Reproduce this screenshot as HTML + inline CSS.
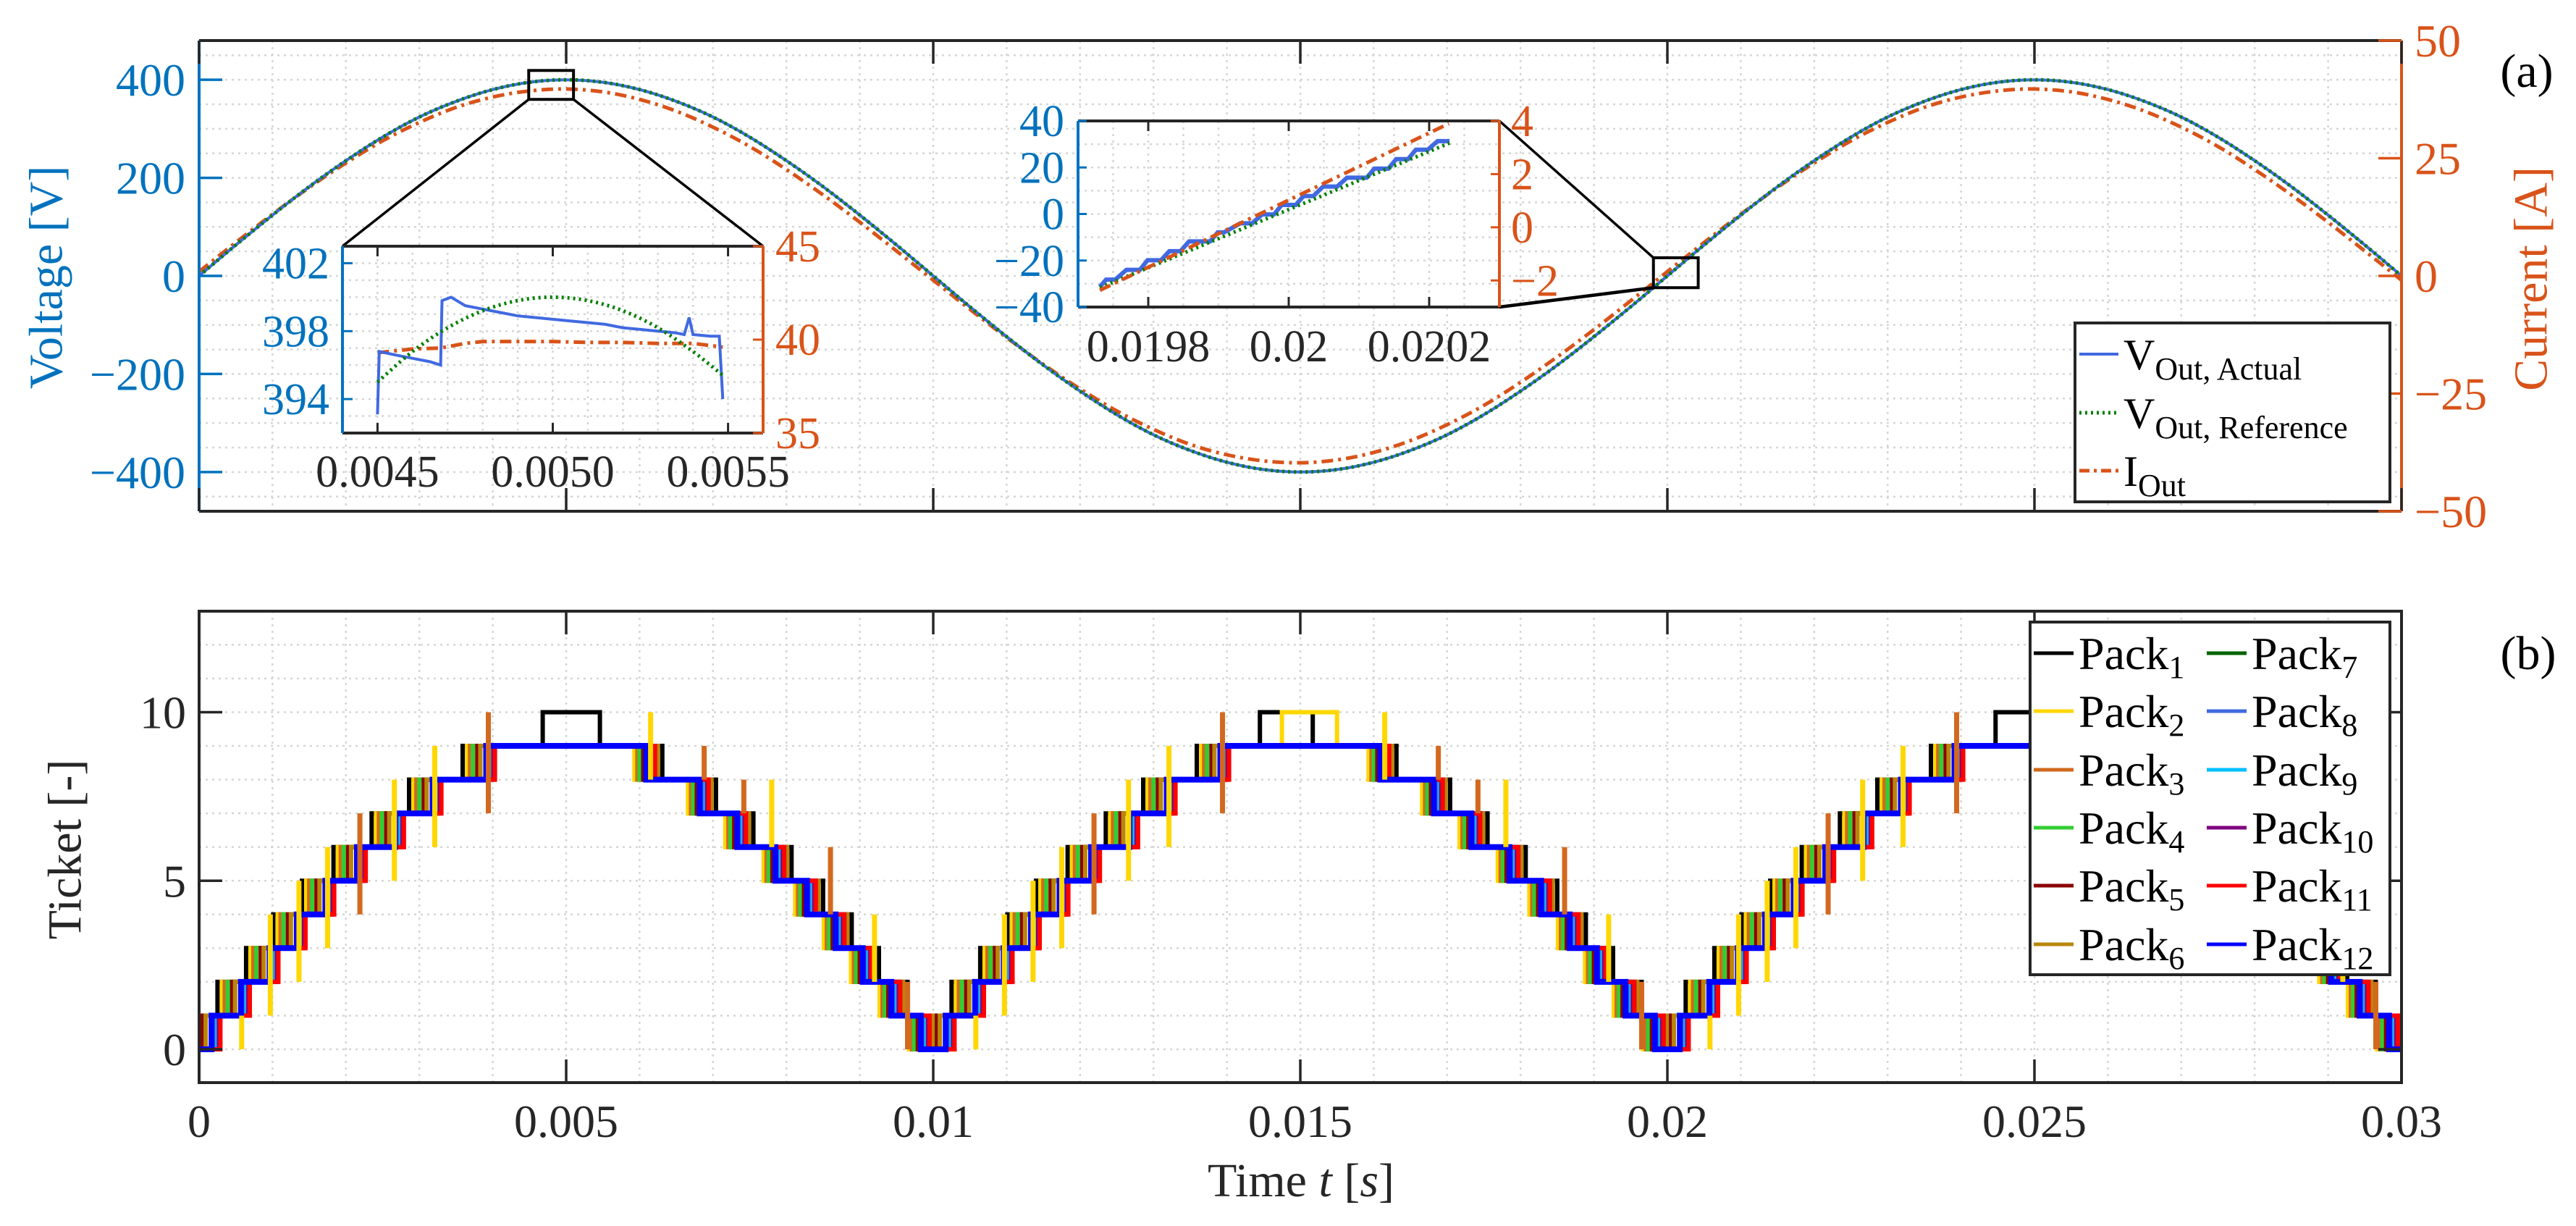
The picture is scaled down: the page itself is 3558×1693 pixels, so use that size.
<!DOCTYPE html>
<html><head><meta charset="utf-8"><title>Inverter output and pack tickets</title>
<style>
html,body{margin:0;padding:0;background:#fff;}
svg{display:block;font-family:"Liberation Serif",serif;}
</style></head>
<body>
<svg id="fig" width="3558" height="1693" viewBox="0 0 3558 1693" xmlns="http://www.w3.org/2000/svg">
<rect x="0" y="0" width="3558" height="1693" fill="#fff"/>
<defs>
<clipPath id="clipTop"><rect x="275" y="56" width="3042" height="650"/></clipPath>
<clipPath id="clipBot"><rect x="275" y="844" width="3042" height="651"/></clipPath>
<clipPath id="clipI1"><rect x="473" y="340" width="581" height="258"/></clipPath>
<clipPath id="clipI2"><rect x="1489" y="167" width="582" height="257"/></clipPath>
</defs>

<g id="gridTop"></g>
<g id="dataTop" clip-path="url(#clipTop)"></g>
<g id="zoomMarks"></g>
<g id="frameTop">
  <line x1="275" y1="56" x2="3317" y2="56" stroke="#262626" stroke-width="4"/>
  <line x1="275" y1="706" x2="3317" y2="706" stroke="#262626" stroke-width="4"/>
  <line x1="275" y1="56" x2="275" y2="706" stroke="#0072BD" stroke-width="4"/>
  <line x1="3317" y1="56" x2="3317" y2="706" stroke="#D95319" stroke-width="4"/>
</g>
<g id="ticksTop"></g>
<text x="64" y="383" transform="rotate(-90 64 383)" text-anchor="middle" dominant-baseline="central" font-size="66" fill="#0072BD">Voltage [V]</text>
<text x="3496" y="385" transform="rotate(-90 3496 385)" text-anchor="middle" dominant-baseline="central" font-size="66" fill="#D95319">Current [A]</text>
<text x="3490" y="120" text-anchor="middle" font-size="66" fill="#000">(a)</text>

<g id="inset1">
  <rect x="473" y="340" width="581" height="258" fill="#fff"/>
  <g id="gridI1"></g>
  <g id="dataI1" clip-path="url(#clipI1)"></g>
  <line x1="473" y1="340" x2="1054" y2="340" stroke="#262626" stroke-width="4"/>
  <line x1="473" y1="598" x2="1054" y2="598" stroke="#262626" stroke-width="4"/>
  <line x1="473" y1="340" x2="473" y2="598" stroke="#0072BD" stroke-width="4"/>
  <line x1="1054" y1="340" x2="1054" y2="598" stroke="#D95319" stroke-width="4"/>
  <g id="ticksI1"></g>
</g>
<g id="inset2">
  <rect x="1489" y="167" width="582" height="257" fill="#fff"/>
  <g id="gridI2"></g>
  <g id="dataI2" clip-path="url(#clipI2)"></g>
  <line x1="1489" y1="167" x2="2071" y2="167" stroke="#262626" stroke-width="4"/>
  <line x1="1489" y1="424" x2="2071" y2="424" stroke="#262626" stroke-width="4"/>
  <line x1="1489" y1="167" x2="1489" y2="424" stroke="#0072BD" stroke-width="4"/>
  <line x1="2071" y1="167" x2="2071" y2="424" stroke="#D95319" stroke-width="4"/>
  <g id="ticksI2"></g>
</g>

<g>
  <rect x="2866" y="446" width="435" height="247" fill="#fff" stroke="#262626" stroke-width="4"/>
  <line x1="2872" y1="489" x2="2926" y2="489" stroke="#4169E1" stroke-width="4"/>
  <text x="2933" y="510" font-size="60" fill="#000">V<tspan font-size="44" dy="14">Out,  Actual</tspan></text>
  <line x1="2872" y1="570" x2="2926" y2="570" stroke="#008000" stroke-width="5" stroke-dasharray="3 5"/>
  <text x="2933" y="591" font-size="60" fill="#000">V<tspan font-size="44" dy="14">Out,  Reference</tspan></text>
  <line x1="2872" y1="650" x2="2926" y2="650" stroke="#D95319" stroke-width="5" stroke-dasharray="14 6 4 6"/>
  <text x="2933" y="671" font-size="60" fill="#000">I<tspan font-size="44" dy="14">Out</tspan></text>
</g>

<g id="gridBot"></g>
<g id="dataBot" clip-path="url(#clipBot)"></g>
<g>
  <rect x="275" y="844" width="3042" height="651" fill="none" stroke="#262626" stroke-width="4"/>
</g>
<g id="ticksBot"></g>
<text x="90" y="1173" transform="rotate(-90 90 1173)" text-anchor="middle" dominant-baseline="central" font-size="66" fill="#262626">Ticket [-]</text>
<text x="1797" y="1652" text-anchor="middle" font-size="66" fill="#262626">Time <tspan font-style="italic">t</tspan> [<tspan font-style="italic">s</tspan>]</text>
<text x="3492" y="924" text-anchor="middle" font-size="66" fill="#000">(b)</text>

<g id="legendBot">
  <rect x="2804" y="859" width="497" height="487" fill="#fff" stroke="#262626" stroke-width="4"/>
</g>
</svg>
<script>
const tStep = 0.0005;
const vActual = [0,63,124,182,235,283,324,356,380,395,400,395,380,356,324,283,235,182,124,63,0,
 -63,-124,-182,-235,-283,-324,-356,-380,-395,-400,-395,-380,-356,-324,-283,-235,-182,-124,-63,0,
 63,124,182,235,283,324,356,380,395,400,395,380,356,324,283,235,182,124,63,0];
const vReference = [0,63,124,182,235,283,324,356,380,395,400,395,380,356,324,283,235,182,124,63,0,
 -63,-124,-182,-235,-283,-324,-356,-380,-395,-400,-395,-380,-356,-324,-283,-235,-182,-124,-63,0,
 63,124,182,235,283,324,356,380,395,400,395,380,356,324,283,235,182,124,63,0];
const iOut = [0.9,7.1,13.1,18.8,24.0,28.7,32.6,35.8,38.0,39.3,39.7,39.1,37.5,35.0,31.6,27.5,22.6,17.2,11.4,5.3,-0.9,
 -7.1,-13.1,-18.8,-24.0,-28.7,-32.6,-35.8,-38.0,-39.3,-39.7,-39.1,-37.5,-35.0,-31.6,-27.5,-22.6,-17.2,-11.4,-5.3,0.9,
 7.1,13.1,18.8,24.0,28.7,32.6,35.8,38.0,39.3,39.7,39.1,37.5,35.0,31.6,27.5,22.6,17.2,11.4,5.3,-0.9];
const xTicks = [0,0.005,0.01,0.015,0.02,0.025,0.03];
const xTickLabels = ["0","0.005","0.01","0.015","0.02","0.025","0.03"];
const vTicks = [-400,-200,0,200,400];
const vTickLabels = ["\u2212400","\u2212200","0","200","400"];
const iTicks = [-50,-25,0,25,50];
const iTickLabels = ["\u221250","\u221225","0","25","50"];

const i1BlueT = [0.00450,0.004505,0.00455,0.00460,0.00465,0.00468,0.004684,0.00471,0.00475,0.00480,0.00485,0.00490,0.00495,0.00500,0.00505,0.00510,0.00515,0.00520,0.00525,0.00530,0.00535,0.005375,0.005389,0.005400,0.00545,0.005475,0.005485];
const i1BlueV = [393.1,396.8,396.6,396.4,396.2,396.0,399.8,400.0,399.5,399.3,399.1,398.9,398.8,398.7,398.6,398.5,398.4,398.2,398.1,398.0,397.9,397.8,398.8,397.8,397.7,397.7,394.0];
const i1GreenT = [0.00450,0.00460,0.00470,0.00480,0.00490,0.00500,0.00510,0.00520,0.00530,0.00540,0.005485];
const i1GreenV = [395.0,396.8,398.2,399.2,399.8,400.0,399.8,399.2,398.2,396.8,395.4];
const i1RedT = [0.00450,0.00460,0.00468,0.00475,0.00480,0.00490,0.00500,0.00510,0.00520,0.00530,0.00540,0.005485];
const i1RedI = [39.3,39.5,39.55,39.8,39.9,39.9,39.9,39.85,39.85,39.8,39.8,39.6];
const i1XTicks = [0.0045,0.0050,0.0055];
const i1XTickLabels = ["0.0045","0.0050","0.0055"];
const i1VTicks = [394,398,402];
const i1ITicks = [35,40,45];

const i2BlueT = [0.019731,0.019740,0.019753,0.019769,0.019788,0.019799,0.019818,0.019830,0.019846,0.019858,0.019888,0.019899,0.019908,0.019931,0.019948,0.019962,0.019979,0.019990,0.020010,0.020021,0.020035,0.020049,0.020069,0.020083,0.020111,0.020122,0.020142,0.020153,0.020170,0.020181,0.020198,0.020212,0.020229];
const i2BlueV = [-31.3,-28.2,-28.2,-24.0,-24.0,-19.9,-19.9,-16.0,-16.0,-11.8,-11.8,-7.9,-7.9,-4.0,-4.0,-0.2,-0.2,3.9,3.9,7.7,7.7,11.8,11.8,15.6,15.6,19.5,19.5,23.6,23.6,27.6,27.6,31.3,31.3];
const i2GreenT = [0.019731,0.020229];
const i2GreenV = [-31.7,30.5];
const i2RedT = [0.019731,0.020228];
const i2RedI = [-2.37,3.9];
const i2XTicks = [0.0198,0.0200,0.0202];
const i2XTickLabels = ["0.0198","0.02","0.0202"];
const i2VTicks = [-40,-20,0,20,40];
const i2ITicks = [-2,0,2,4];

const riseBase = [0.00017,0.00057,0.00096,0.00133,0.00172,0.00215,0.00267,0.00318,0.00391];
const halfStarts = [0,0.01,0.02];
const packNames = ["1","2","3","4","5","6","7","8","9","10","11","12"];
const packColors = ["#000000","#FFD700","#D2691E","#32CD32","#8B0000","#B8860B","#006400","#4169E1","#00BFFF","#800080","#FF0000","#0000FF"];
const riseOffset = [-0.00032,-0.00026,-0.00022,-0.00018,-0.00012,-0.00008,0.00004,0.00006,0.00008,0.00010,0.00012,0];
const fallOffset = [0.00022,-0.00016,-0.00012,-0.00009,-0.00004,0.00016,0.00004,0.00006,0.00008,0.00010,0.00012,0];
const peakPack = [0,0,1,0];
const peakStart = [0.00468,0.01445,0.01475,0.02447];
const peakEnd = [0.00546,0.01517,0.01550,0.02497];
const spikePack = [1,1,1,1,2,1,1,2,1,2,2,1,2,1,2];
const spikeRelT = [0.00058,0.00097,0.00136,0.00175,0.00219,0.00266,0.00321,0.00394,0.00615,0.00688,0.00742,0.00780,0.00860,0.00920,0.00965];
const spikeFrom = [0,1,2,3,4,5,6,7,8,8,7,6,4,2,0];
const spikeTo = [1,4,5,6,7,8,9,10,10,9,8,8,6,4,2];
const kTicks = [0,5,10];

const xT = t => 275 + t/0.03*3042;
const yV = v => 381 - v*(325/480);
const yI = i => 381 - i*(325/50);
const yK = k => 1449 - k*46.55;
const xI1 = t => 473 + (t-0.0044)/0.0012*581;
const yI1V = v => 598 - (v-392)/11*258;
const yI1I = i => 598 - (i-35)/10*258;
const xI2 = t => 1489 + (t-0.0197)/0.0006*582;
const yI2V = v => 424 - (v+40)/80*257;
const yI2I = i => 424 - (i+3)/7*257;

const NS = 'http://www.w3.org/2000/svg';
function mk(tag, attrs, parent){
  const e = document.createElementNS(NS, tag);
  for (const k in attrs) e.setAttribute(k, attrs[k]);
  parent.appendChild(e);
  return e;
}
const $ = id => document.getElementById(id);
const GRID = '#d6d6d6';

function smoothPath(pts){
  let d = 'M' + pts[0][0].toFixed(1) + ',' + pts[0][1].toFixed(1);
  for (let i=0;i<pts.length-1;i++){
    const p0 = pts[Math.max(0,i-1)], p1 = pts[i], p2 = pts[i+1], p3 = pts[Math.min(pts.length-1,i+2)];
    const c1x = p1[0]+(p2[0]-p0[0])/6, c1y = p1[1]+(p2[1]-p0[1])/6;
    const c2x = p2[0]-(p3[0]-p1[0])/6, c2y = p2[1]-(p3[1]-p1[1])/6;
    d += 'C'+c1x.toFixed(1)+','+c1y.toFixed(1)+' '+c2x.toFixed(1)+','+c2y.toFixed(1)+' '+p2[0].toFixed(1)+','+p2[1].toFixed(1);
  }
  return d;
}
function linePath(pts){
  return pts.map((p,i)=>(i?'L':'M')+p[0].toFixed(1)+','+p[1].toFixed(1)).join('');
}

for (let t=0.001; t<0.03-1e-9; t+=0.001){
  const g = mk('line',{x1:xT(t),y1:56,x2:xT(t),y2:706,stroke:GRID,'stroke-width':2.5,'stroke-dasharray':'3 6'},$('gridTop'));
  
  
}
for (let v=-450; v<=450; v+=50){
  const g = mk('line',{x1:275,y1:yV(v),x2:3317,y2:yV(v),stroke:GRID,'stroke-width':2.5,'stroke-dasharray':'3 6'},$('gridTop'));
  
  
}

const ptsA = vActual.map((v,i)=>[xT(i*tStep), yV(v)]);
const ptsR = vReference.map((v,i)=>[xT(i*tStep), yV(v)]);
const ptsI = iOut.map((v,i)=>[xT(i*tStep), yI(v)]);
let el;
el = mk('path',{d:smoothPath(ptsI),fill:'none',stroke:'#D95319','stroke-width':5,'stroke-dasharray':'16 7 4 7'},$('dataTop'));


el = mk('path',{d:smoothPath(ptsA),fill:'none',stroke:'#4169E1','stroke-width':4},$('dataTop'));


el = mk('path',{d:smoothPath(ptsR),fill:'none',stroke:'#008000','stroke-width':5,'stroke-dasharray':'3 5'},$('dataTop'));



const z1 = [xT(0.00449), yV(419), xT(0.00510), yV(360)];
el = mk('rect',{x:z1[0],y:z1[1],width:z1[2]-z1[0],height:z1[3]-z1[1],fill:'none',stroke:'#000','stroke-width':4},$('zoomMarks'));


el = mk('line',{x1:z1[0],y1:z1[3],x2:473,y2:340,stroke:'#000','stroke-width':3.5},$('zoomMarks'));


el = mk('line',{x1:z1[2],y1:z1[3],x2:1054,y2:340,stroke:'#000','stroke-width':3.5},$('zoomMarks'));


const z2 = [xT(0.01981), yV(37), xT(0.02042), yV(-24)];
el = mk('rect',{x:z2[0],y:z2[1],width:z2[2]-z2[0],height:z2[3]-z2[1],fill:'none',stroke:'#000','stroke-width':4},$('zoomMarks'));


el = mk('line',{x1:2071,y1:167,x2:z2[0],y2:z2[1],stroke:'#000','stroke-width':3.5},$('zoomMarks'));


el = mk('line',{x1:2071,y1:424,x2:z2[0],y2:z2[3],stroke:'#000','stroke-width':4.5},$('zoomMarks'));



xTicks.forEach((t,i)=>{
  let a = mk('line',{x1:xT(t),y1:56,x2:xT(t),y2:88,stroke:'#262626','stroke-width':3.5},$('ticksTop'));
  
  
  a = mk('line',{x1:xT(t),y1:706,x2:xT(t),y2:674,stroke:'#262626','stroke-width':3.5},$('ticksTop'));
  
  
});
vTicks.forEach((v,i)=>{
  let a = mk('line',{x1:275,y1:yV(v),x2:307,y2:yV(v),stroke:'#0072BD','stroke-width':3.5},$('ticksTop'));
  
  
  a = mk('text',{x:256,y:yV(v)+22,'text-anchor':'end','font-size':64,fill:'#0072BD'},$('ticksTop'));
  a.textContent = vTickLabels[i];
  
  
});
iTicks.forEach((v,i)=>{
  let a = mk('line',{x1:3317,y1:yI(v),x2:3285,y2:yI(v),stroke:'#D95319','stroke-width':3.5},$('ticksTop'));
  
  
  a = mk('text',{x:3335,y:yI(v)+22,'text-anchor':'start','font-size':64,fill:'#D95319'},$('ticksTop'));
  a.textContent = iTickLabels[i];
  
  
});

for (let t=0.0045; t<=0.00555; t+=0.0001){
  el = mk('line',{x1:xI1(t),y1:340,x2:xI1(t),y2:598,stroke:GRID,'stroke-width':2.5,'stroke-dasharray':'3 6'},$('gridI1'));
  
  
}
for (let v=393; v<=402; v+=1){
  el = mk('line',{x1:473,y1:yI1V(v),x2:1054,y2:yI1V(v),stroke:GRID,'stroke-width':2.5,'stroke-dasharray':'3 6'},$('gridI1'));
  
  
}
el = mk('path',{d:linePath(i1RedT.map((t,i)=>[xI1(t),yI1I(i1RedI[i])])),fill:'none',stroke:'#D95319','stroke-width':5,'stroke-dasharray':'16 7 4 7'},$('dataI1'));


el = mk('path',{d:linePath(i1BlueT.map((t,i)=>[xI1(t),yI1V(i1BlueV[i])])),fill:'none',stroke:'#4169E1','stroke-width':4},$('dataI1'));


el = mk('path',{d:smoothPath(i1GreenT.map((t,i)=>[xI1(t),yI1V(i1GreenV[i])])),fill:'none',stroke:'#008000','stroke-width':5,'stroke-dasharray':'3 5'},$('dataI1'));


i1XTicks.forEach((t,i)=>{
  let a = mk('line',{x1:xI1(t),y1:598,x2:xI1(t),y2:584,stroke:'#262626','stroke-width':3},$('ticksI1'));
  
  
  a = mk('line',{x1:xI1(t),y1:340,x2:xI1(t),y2:354,stroke:'#262626','stroke-width':3},$('ticksI1'));
  
  
  a = mk('text',{x:xI1(t),y:672,'text-anchor':'middle','font-size':62,fill:'#262626'},$('ticksI1'));
  a.textContent = i1XTickLabels[i];
  
  
});
i1VTicks.forEach(v=>{
  let a = mk('line',{x1:473,y1:yI1V(v),x2:487,y2:yI1V(v),stroke:'#0072BD','stroke-width':3},$('ticksI1'));
  
  
  a = mk('text',{x:455,y:yI1V(v)+21,'text-anchor':'end','font-size':62,fill:'#0072BD'},$('ticksI1'));
  a.textContent = String(v);
  
  
});
i1ITicks.forEach(v=>{
  let a = mk('line',{x1:1054,y1:yI1I(v),x2:1040,y2:yI1I(v),stroke:'#D95319','stroke-width':3},$('ticksI1'));
  
  
  a = mk('text',{x:1071,y:yI1I(v)+21,'text-anchor':'start','font-size':62,fill:'#D95319'},$('ticksI1'));
  a.textContent = String(v);
  
  
});

for (let t=0.01975; t<0.0203; t+=0.00005){
  el = mk('line',{x1:xI2(t),y1:167,x2:xI2(t),y2:424,stroke:GRID,'stroke-width':2.5,'stroke-dasharray':'3 6'},$('gridI2'));
  
  
}
for (let v=-30; v<=30; v+=10){
  el = mk('line',{x1:1489,y1:yI2V(v),x2:2071,y2:yI2V(v),stroke:GRID,'stroke-width':2.5,'stroke-dasharray':'3 6'},$('gridI2'));
  
  
}
el = mk('path',{d:linePath(i2BlueT.map((t,i)=>[xI2(t),yI2V(i2BlueV[i])])),fill:'none',stroke:'#4169E1','stroke-width':6},$('dataI2'));


el = mk('path',{d:linePath(i2GreenT.map((t,i)=>[xI2(t),yI2V(i2GreenV[i])])),fill:'none',stroke:'#008000','stroke-width':5,'stroke-dasharray':'3 5'},$('dataI2'));


el = mk('path',{d:linePath(i2RedT.map((t,i)=>[xI2(t),yI2I(i2RedI[i])])),fill:'none',stroke:'#D95319','stroke-width':5,'stroke-dasharray':'16 7 4 7'},$('dataI2'));


i2XTicks.forEach((t,i)=>{
  let a = mk('line',{x1:xI2(t),y1:424,x2:xI2(t),y2:410,stroke:'#262626','stroke-width':3},$('ticksI2'));
  
  
  a = mk('line',{x1:xI2(t),y1:167,x2:xI2(t),y2:181,stroke:'#262626','stroke-width':3},$('ticksI2'));
  
  
  a = mk('text',{x:xI2(t),y:499,'text-anchor':'middle','font-size':62,fill:'#262626'},$('ticksI2'));
  a.textContent = i2XTickLabels[i];
  
  
});
i2VTicks.forEach(v=>{
  let a = mk('line',{x1:1489,y1:yI2V(v),x2:1501,y2:yI2V(v),stroke:'#0072BD','stroke-width':3},$('ticksI2'));
  
  
  a = mk('text',{x:1470,y:yI2V(v)+21,'text-anchor':'end','font-size':62,fill:'#0072BD'},$('ticksI2'));
  a.textContent = v<0 ? '\u2212'+Math.abs(v) : String(v);
  
  
});
i2ITicks.forEach(v=>{
  let a = mk('line',{x1:2071,y1:yI2I(v),x2:2059,y2:yI2I(v),stroke:'#D95319','stroke-width':3},$('ticksI2'));
  
  
  a = mk('text',{x:2087,y:yI2I(v)+21,'text-anchor':'start','font-size':62,fill:'#D95319'},$('ticksI2'));
  a.textContent = v<0 ? '\u2212'+Math.abs(v) : String(v);
  
  
});

for (let t=0.001; t<0.03-1e-9; t+=0.001){
  el = mk('line',{x1:xT(t),y1:844,x2:xT(t),y2:1495,stroke:GRID,'stroke-width':2.5,'stroke-dasharray':'3 6'},$('gridBot'));
  
  
}
for (let k=0; k<=12; k++){
  el = mk('line',{x1:275,y1:yK(k),x2:3317,y2:yK(k),stroke:GRID,'stroke-width':2.5,'stroke-dasharray':'3 6'},$('gridBot'));
  
  
}

function packPath(p){
  const ev = [];
  halfStarts.forEach((s,c)=>{
    for (let k=1;k<=9;k++){
      ev.push([Math.max(s, s+riseBase[k-1]+riseOffset[p]), k]);
    }
    peakPack.forEach((pp,j)=>{
      if (pp===p && peakStart[j]>=s && peakStart[j]<s+0.01){ ev.push([peakStart[j],10]); ev.push([peakEnd[j],9]); }
    });
    for (let k=9;k>=1;k--){
      ev.push([Math.min(s+0.01, s+0.01-riseBase[k-1]+fallOffset[p]), k-1]);
    }
  });
  ev.sort((a,b)=>a[0]-b[0]);
  let d = 'M'+xT(0).toFixed(1)+','+yK(0).toFixed(1);
  ev.forEach(e=>{ d += 'H'+xT(e[0]).toFixed(1)+'V'+yK(e[1]).toFixed(1); });
  d += 'H'+xT(0.03).toFixed(1);
  return d;
}
packColors.forEach((col,p)=>{
  const path = mk('path',{d:packPath(p),fill:'none',stroke:col,'stroke-width':p===11?8:6,'stroke-linejoin':'miter'},$('dataBot'));
  
  
});
halfStarts.forEach(s=>{
  spikeRelT.forEach((rt,j)=>{
    const t = s+rt;
    if (t>0.0299) return;
    const sp = mk('line',{x1:xT(t),y1:yK(spikeFrom[j]),x2:xT(t),y2:yK(spikeTo[j]),stroke:packColors[spikePack[j]],'stroke-width':7},$('dataBot'));
    
    
  });
});

xTicks.forEach((t,i)=>{
  let a = mk('line',{x1:xT(t),y1:844,x2:xT(t),y2:876,stroke:'#262626','stroke-width':3.5},$('ticksBot'));
  
  
  a = mk('line',{x1:xT(t),y1:1495,x2:xT(t),y2:1463,stroke:'#262626','stroke-width':3.5},$('ticksBot'));
  
  
  a = mk('text',{x:xT(t),y:1570,'text-anchor':'middle','font-size':64,fill:'#262626'},$('ticksBot'));
  a.textContent = xTickLabels[i];
  
  
});
kTicks.forEach(k=>{
  let a = mk('line',{x1:275,y1:yK(k),x2:307,y2:yK(k),stroke:'#262626','stroke-width':3.5},$('ticksBot'));
  
  
  a = mk('line',{x1:3317,y1:yK(k),x2:3285,y2:yK(k),stroke:'#262626','stroke-width':3.5},$('ticksBot'));
  
  
  a = mk('text',{x:257,y:yK(k)+22,'text-anchor':'end','font-size':64,fill:'#262626'},$('ticksBot'));
  a.textContent = String(k);
  
  
});

const rowY = [902,982,1063,1143,1223,1304];
packColors.forEach((col,p)=>{
  const colI = p<6 ? 0 : 1, row = p%6;
  const lx = colI===0 ? 2809 : 3048;
  const ln = mk('line',{x1:lx,y1:rowY[row],x2:lx+55,y2:rowY[row],stroke:col,'stroke-width':5},$('legendBot'));
  
  
  const tx = mk('text',{x:lx+62,y:rowY[row]+22,'font-size':64,fill:'#000'},$('legendBot'));
  
  
  tx.appendChild(document.createTextNode('Pack'));
  const sub = mk('tspan',{'font-size':44,dy:12},tx);
  sub.textContent = packNames[p];
});
</script>
</body></html>
